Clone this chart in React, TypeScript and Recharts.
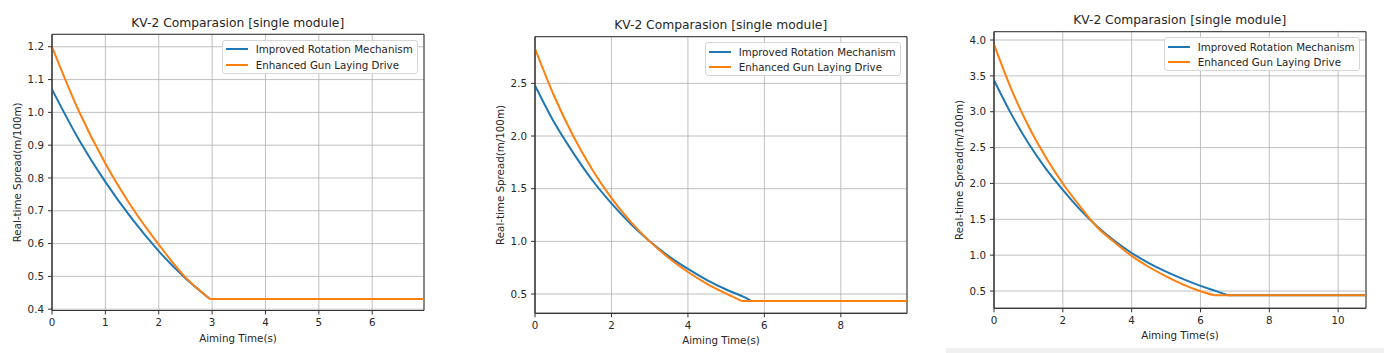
import { LineChart, Line, XAxis, YAxis, CartesianGrid, ReferenceArea } from 'recharts';

// KV-2, three guns - spread
const gunATimesRotation = [0, 0.5, 1, 1.5, 2, 2.5, 2.96, 6.97];
const gunARotation = [1.07, 0.918, 0.788, 0.675, 0.577, 0.494, 0.431, 0.431];
const gunATimesLaying = [0, 0.5, 1, 1.5, 2, 2.5, 2.96, 6.97];
const gunALaying = [1.2, 1.005, 0.844, 0.71, 0.597, 0.497, 0.431, 0.431];

const gunBTimesRotation = [0, 0.5, 1, 1.5, 2, 2.5, 3, 3.5, 4, 4.5, 5, 5.5, 5.65, 9.73];
const gunBRotation = [2.48, 2.13, 1.84, 1.58, 1.36, 1.166, 1.0, 0.857, 0.738, 0.633, 0.543, 0.465, 0.434, 0.434];
const gunBTimesLaying = [0, 0.5, 1, 1.5, 2, 2.5, 3, 3.5, 4, 4.5, 5, 5.4, 9.73];
const gunBLaying = [2.83, 2.38, 2.0, 1.68, 1.41, 1.187, 1.0, 0.842, 0.709, 0.597, 0.503, 0.434, 0.434];

const gunCTimesRotation = [0, 0.5, 1, 1.5, 2, 2.5, 3, 3.5, 4, 4.5, 5, 5.5, 6, 6.5, 6.8, 10.81];
const gunCRotation = [3.44, 2.97, 2.56, 2.21, 1.91, 1.635, 1.4, 1.2, 1.03, 0.89, 0.77, 0.665, 0.572, 0.492, 0.44, 0.44];
const gunCTimesLaying = [0, 0.5, 1, 1.5, 2, 2.5, 3, 3.5, 4, 4.5, 5, 5.5, 6, 6.4, 10.81];
const gunCLaying = [3.94, 3.32, 2.8, 2.37, 2.0, 1.68, 1.39, 1.18, 0.99, 0.835, 0.705, 0.59, 0.497, 0.44, 0.44];

const xTicksA = [0, 1, 2, 3, 4, 5, 6];
const yTicksA = [0.4, 0.5, 0.6, 0.7, 0.8, 0.9, 1.0, 1.1, 1.2];
const xTicksB = [0, 2, 4, 6, 8];
const yTicksB = [0.5, 1.0, 1.5, 2.0, 2.5];
const xTicksC = [0, 2, 4, 6, 8, 10];
const yTicksC = [0.5, 1.0, 1.5, 2.0, 2.5, 3.0, 3.5, 4.0];

const TITLE = 'KV-2 Comparasion [single module]';
const X_LABEL = 'Aiming Time(s)';
const Y_LABEL = 'Real-time Spread(m/100m)';
const ROTATION_NAME = 'Improved Rotation Mechanism';
const LAYING_NAME = 'Enhanced Gun Laying Drive';

const BLUE = '#1f77b4';
const ORANGE = '#ff7f0e';
const INK = '#262626';
const FONT = '"DejaVu Sans", sans-serif';
const FS = 10.3;

type Row = { t: number; v: number };
const toRows = (ts: number[], vs: number[]): Row[] => ts.map((t, i) => ({ t, v: vs[i] }));

type PanelProps = {
  plotLeft: number;
  plotRight: number;
  plotTop: number;
  plotBottom: number;
  xDomain: [number, number];
  yDomain: [number, number];
  xTicks: number[];
  yTicks: number[];
  rotation: Row[];
  laying: Row[];
  titleY: number;
};

const Y_AXIS_W = 52;
const PAD_R = 12;
const X_AXIS_H = 40;

// curve bit is smoothed, the floor after the corner stays straight
function SpreadLine({ rows, color }: { rows: Row[]; color: string }) {
  const curve = rows.slice(0, rows.length - 1);
  const floor = rows.slice(rows.length - 2);
  return [
    <Line key="c" data={curve} dataKey="v" type="monotoneX" stroke={color} strokeWidth={2} dot={false} activeDot={false} isAnimationActive={false} />,
    <Line key="f" data={floor} dataKey="v" type="linear" stroke={color} strokeWidth={2} dot={false} activeDot={false} isAnimationActive={false} />,
  ];
}

function Panel(p: PanelProps) {
  const left = p.plotLeft - Y_AXIS_W;
  const width = p.plotRight - p.plotLeft + Y_AXIS_W + PAD_R;
  const plotW = p.plotRight - p.plotLeft;
  const tick = { fontSize: FS, fill: INK, fontFamily: FONT };
  return (
    <div style={{ position: 'absolute', left, top: 0, width, height: 353 }}>
      <div
        style={{
          position: 'absolute',
          left: Y_AXIS_W,
          width: plotW,
          top: p.titleY - 8,
          height: 16,
          lineHeight: '16px',
          textAlign: 'center',
          fontSize: 12.3,
          fontFamily: FONT,
          color: INK,
          whiteSpace: 'nowrap',
        }}
      >
        {TITLE}
      </div>
      <LineChart
        width={width}
        height={353}
        margin={{ top: p.plotTop, right: PAD_R, bottom: 353 - p.plotBottom - X_AXIS_H, left: 0 }}
      >
        <CartesianGrid stroke="#b0b0b0" strokeWidth={0.8} />
        <XAxis
          dataKey="t"
          type="number"
          domain={p.xDomain}
          ticks={p.xTicks}
          allowDataOverflow
          height={X_AXIS_H}
          tick={tick}
          tickSize={4}
          tickMargin={4.5}
          stroke="#333"
          label={{ value: X_LABEL, position: 'insideBottom', offset: 9, style: { fontSize: FS, fill: INK, fontFamily: FONT } }}
        />
        <YAxis
          type="number"
          domain={p.yDomain}
          ticks={p.yTicks}
          allowDataOverflow
          width={Y_AXIS_W}
          tick={tick}
          tickSize={4}
          tickMargin={4}
          stroke="#333"
          tickFormatter={(v: number) => v.toFixed(1)}
          label={{
            value: Y_LABEL,
            angle: -90,
            position: 'insideLeft',
            offset: Y_AXIS_W - 34.4,
            style: { fontSize: FS, fill: INK, fontFamily: FONT, textAnchor: 'middle' },
          }}
        />
        <ReferenceArea
          x1={p.xDomain[0]}
          x2={p.xDomain[1]}
          y1={p.yDomain[0]}
          y2={p.yDomain[1]}
          fill="none"
          stroke="#333"
          strokeWidth={1}
        />
        {SpreadLine({ rows: p.rotation, color: BLUE })}
        {SpreadLine({ rows: p.laying, color: ORANGE })}
      </LineChart>
      <div
        style={{
          position: 'absolute',
          left: Y_AXIS_W + plotW - 5.7 - 196,
          top: p.plotTop + 5.7,
          width: 196,
          height: 34,
          boxSizing: 'border-box',
          border: '1px solid #d6d6d6',
          borderRadius: 3,
          background: 'rgba(255,255,255,0.85)',
          fontFamily: FONT,
          fontSize: FS,
          color: INK,
        }}
      >
        {[
          { name: ROTATION_NAME, color: BLUE, y: 8.3 },
          { name: LAYING_NAME, color: ORANGE, y: 23.7 },
        ].map((it) => (
          <div key={it.name} style={{ position: 'absolute', left: 0, top: it.y - 7, height: 14, lineHeight: '14px', whiteSpace: 'nowrap' }}>
            <span style={{ position: 'absolute', left: 3, top: 6, width: 22, height: 2, background: it.color }} />
            <span style={{ position: 'absolute', left: 32.7 }}>{it.name}</span>
          </div>
        ))}
      </div>
    </div>
  );
}

export default function App() {
  return (
    <div style={{ position: 'absolute', left: 0, top: 0, width: 1384, height: 353, background: '#fff', overflow: 'hidden' }}>
      <Panel
        plotLeft={51.7}
        plotRight={423.7}
        plotTop={34.3}
        plotBottom={310.5}
        xDomain={[0, 6.97]}
        yDomain={[0.396, 1.238]}
        xTicks={xTicksA}
        yTicks={yTicksA}
        rotation={toRows(gunATimesRotation, gunARotation)}
        laying={toRows(gunATimesLaying, gunALaying)}
        titleY={22.7}
      />
      <Panel
        plotLeft={534.7}
        plotRight={906.7}
        plotTop={36.7}
        plotBottom={313.3}
        xDomain={[0, 9.73]}
        yDomain={[0.317, 2.943]}
        xTicks={xTicksB}
        yTicks={yTicksB}
        rotation={toRows(gunBTimesRotation, gunBRotation)}
        laying={toRows(gunBTimesLaying, gunBLaying)}
        titleY={25.3}
      />
      <Panel
        plotLeft={993.7}
        plotRight={1365.7}
        plotTop={31.7}
        plotBottom={308.3}
        xDomain={[0, 10.81]}
        yDomain={[0.259, 4.116]}
        xTicks={xTicksC}
        yTicks={yTicksC}
        rotation={toRows(gunCTimesRotation, gunCRotation)}
        laying={toRows(gunCTimesLaying, gunCLaying)}
        titleY={20}
      />
      <div style={{ position: 'absolute', left: 946, top: 348, width: 438, height: 5, background: '#f0f0f0' }} />
    </div>
  );
}
